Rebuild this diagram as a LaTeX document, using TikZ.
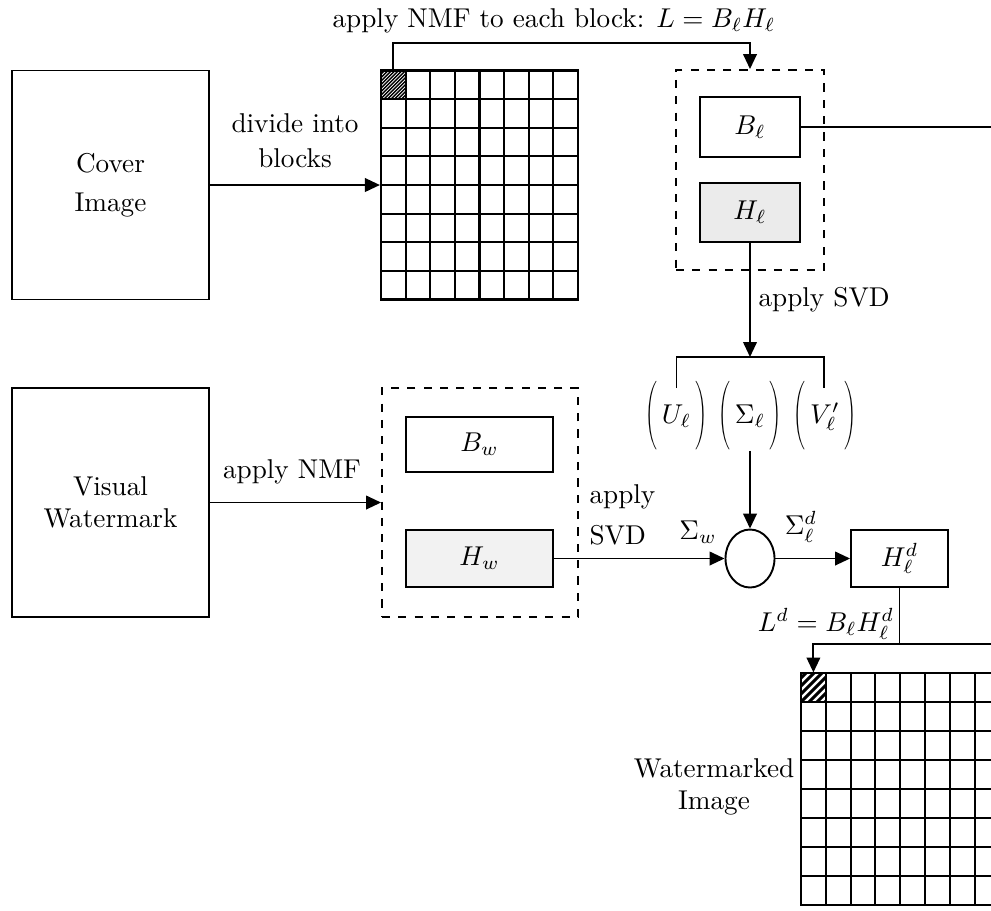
\documentclass[tikz,border=0pt]{standalone}
\usepackage{graphicx}
\usetikzlibrary{arrows.meta,shapes.geometric}
\def\pu{0.3676pt}
% slim tall parentheses around the SVD factors
\newcommand\slimlp{\scalebox{0.6}[1.05]{$\bigg($}}
\newcommand\slimrp{\scalebox{0.6}[1.05]{$\bigg)$}}
\begin{document}
\begin{tikzpicture}[x=\pu,y=-\pu,
  box/.style={draw, line width=0.7pt, inner sep=0pt, align=center},
  frame/.style={draw, dashed, line width=0.7pt, inner sep=0pt},
  cell/.style={inner sep=0pt},
  wire/.style={line width=0.7pt},
  arr/.style={line width=0.7pt, -{Triangle[length=5.5pt,width=5pt]}},
  gridline/.style={line width=0.8pt},
  lbl/.style={inner sep=0pt, align=center}]
\path[use as bounding box, clip] (0,0) rectangle (991,910);

% source images
\node[box, minimum width=197*\pu, minimum height=229*\pu] (cover) at (110.5,185) {Cover\\[2.5pt]Image};
\node[box, minimum width=197*\pu, minimum height=229*\pu] (wm) at (110.5,502.5) {Visual\\Watermark};

% block grid of the cover image
\node[draw, gridline, inner sep=0pt, minimum width=197*\pu, minimum height=229*\pu] (grid1) at (479.5,185) {};
\foreach \i in {1,...,7}{
  \draw[gridline] (381+\i*24.625,70.5) -- (381+\i*24.625,299.5);
  \draw[gridline] (381,70.5+\i*28.625) -- (578,70.5+\i*28.625);
}
\node[cell, minimum width=24.625*\pu, minimum height=28.625*\pu] (h1) at (393.3,84.8) {};
\begin{scope}
  \clip (381,70.5) rectangle (405.6,99.1);
  \foreach \k in {-32,-28.5,...,30}
    \draw[line width=0.5pt] (381+\k,99.1) -- (381+\k+32,67.1);
\end{scope}

% NMF of one block
\node[frame, minimum width=148*\pu, minimum height=200*\pu] (nmf1) at (750,170) {};
\node[box, minimum width=100*\pu, minimum height=60*\pu] (Bl) at (750,127) {$B_\ell$};
\node[box, fill=black!8, minimum width=100*\pu, minimum height=59*\pu] (Hl) at (750,212.5) {$H_\ell$};

% NMF of the watermark
\node[frame, minimum width=196*\pu, minimum height=229*\pu] (nmf2) at (480,502.5) {};
\node[box, minimum width=147*\pu, minimum height=55*\pu] (Bw) at (479.5,444.5) {$B_w$};
\node[box, fill=black!5, minimum width=147*\pu, minimum height=57*\pu] (Hw) at (479.5,558.5) {$H_w$};

% SVD factors of H_l
\node[lbl] (U) at (676.5,416) {\slimlp\,$U_\ell$\,\slimrp};
\node[lbl] (S) at (750,416) {\slimlp\,$\Sigma_\ell$\,\slimrp};
\node[lbl] (V) at (825,416) {\slimlp\,$V'_\ell$\,\slimrp};
\coordinate (brtop) at (750,357);
\coordinate (uin) at (676.5,388);
\coordinate (vin) at (824,388);

% embedding
\node[draw, ellipse, line width=0.7pt, inner sep=0pt, minimum width=49*\pu, minimum height=58*\pu] (mix) at (750,558.5) {};
\node[box, minimum width=97*\pu, minimum height=57*\pu] (Hd) at (899.5,558.5) {$H^d_\ell$};

% watermarked block grid
\node[draw, gridline, inner sep=0pt, minimum width=198.4*\pu, minimum height=232*\pu] (grid2) at (900.2,789) {};
\foreach \i in {1,...,7}{
  \draw[gridline] (801+\i*24.8,673) -- (801+\i*24.8,905);
  \draw[gridline] (801,673+\i*29) -- (999.4,673+\i*29);
}
\node[cell, minimum width=24.8*\pu, minimum height=29*\pu] (h2) at (813.4,687.5) {};
\begin{scope}
  \clip (801,673) rectangle (825.8,702);
  \foreach \k in {-32,-24,...,24}
    \draw[line width=1.1pt] (801+\k,702) -- (801+\k+32,670);
\end{scope}
\coordinate (ret) at (1010,644);
\coordinate (jn) at (899.5,644);

% connectors
\draw[arr] (cover.east) -- (grid1.west);
\draw[arr] (wm.east) -- (nmf2.west);
\draw[arr] (h1.north) -- ++(0,-27) -| (nmf1.north);
\draw[arr] (Hl.south) -- (brtop);
\draw[wire] (uin) |- (brtop) -| (vin);
\draw[arr] (S.south) -- (mix.north);
\draw[arr] (Hw.east) -- (mix.west);
\draw[arr] (mix.east) -- (Hd.west);
\draw[wire] (Hd.south) -- (jn);
\draw[arr] (Bl.east) -| (ret) -- (h2.north |- ret) -- (h2.north);

% labels
\node[lbl] at (554,21) {apply NMF to each block: $L=B_\ell H_\ell$};
\node[lbl] at (295,141) {divide into\\[1pt]blocks};
\node[lbl] at (292,472) {apply NMF};
\node[lbl, anchor=west] at (758,300) {apply SVD};
\node[lbl, align=left, anchor=west] at (589,515) {apply\\[3pt]SVD};
\node[lbl] at (698,532) {$\Sigma_w$};
\node[lbl] at (801,527) {$\Sigma^d_\ell$};
\node[lbl] at (826,624) {$L^d=B_\ell H^d_\ell$};
\node[lbl] at (714,787) {Watermarked\\Image};
\end{tikzpicture}
\end{document}
